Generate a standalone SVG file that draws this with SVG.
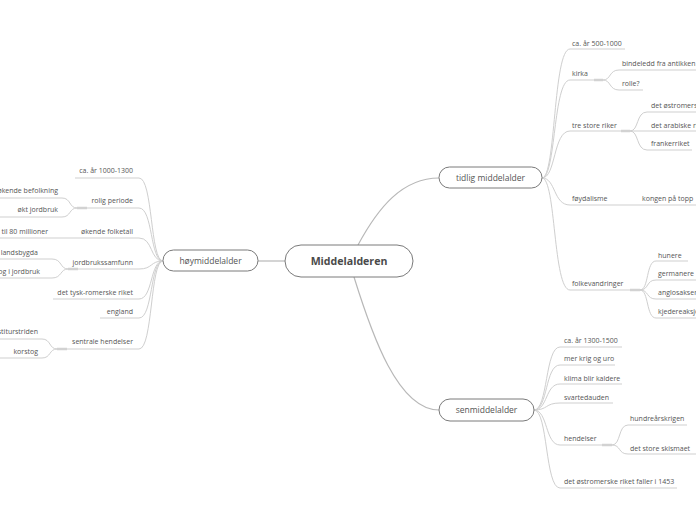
<svg xmlns="http://www.w3.org/2000/svg" width="696" height="520" viewBox="0 0 696 520">
<style>
.c{fill:none;stroke:#cfcfcf;stroke-width:1}
.t{fill:none;stroke:#d2d2d2;stroke-width:2.5}
.m{fill:none;stroke:#b8b8b8;stroke-width:1.2}
.n{fill:#fff;stroke:#7a7a7a;stroke-width:1}
.l{font-family:"Open Sans","DejaVu Sans",sans-serif;font-size:7px;fill:#555}
.r{text-anchor:end}
.nl{font-family:"Open Sans","DejaVu Sans",sans-serif;font-size:8.5px;fill:#555;text-anchor:middle}
.cl{font-family:"Open Sans","DejaVu Sans",sans-serif;font-size:10.6px;font-weight:bold;fill:#4a4a4a;text-anchor:middle}
</style>
<rect width="696" height="520" fill="#fff"/>
<g id="connectors">
<path class="m" d="M358,245 C378,208 402,178 439,178"/>
<path class="m" d="M354,277 C372,335 398,410 439,410"/>
<path class="m" d="M258,261 L285,261"/>
<path class="c" d="M542,178 C556,178 553,49 570,49 L625,49"/>
<path class="c" d="M542,178 C556,178 553,80 570,80 L603,80"/>
<path class="c" d="M542,178 C556,178 553,131 570,131 L630,131"/>
<path class="c" d="M542,178 C556,178 553,205 570,205 L696,205"/>
<path class="c" d="M542,178 C556,178 553,290 570,290 L640,290"/>
<path class="t" d="M594,80 L603,80"/>
<path class="c" d="M603,80 C611,80 609,70 619,70 L696,70"/>
<path class="c" d="M603,80 C611,80 609,90 619,90 L643,90"/>
<path class="t" d="M621,131 L630,131"/>
<path class="c" d="M630,131 C639,131 636,112 647,112 L696,112"/>
<path class="c" d="M630,131 L696,131"/>
<path class="c" d="M630,131 C639,131 636,150 647,150 L692,150"/>
<path class="t" d="M630,290 L640,290"/>
<path class="c" d="M640,290 C649,290 646,261 656,261 L688,261"/>
<path class="c" d="M640,290 C649,290 646,280 656,280 L696,280"/>
<path class="c" d="M640,290 C649,290 646,299 656,299 L696,299"/>
<path class="c" d="M640,290 C649,290 646,318 656,318 L696,318"/>
<path class="c" d="M534,410 C548,410 545,347 560,347 L622,347"/>
<path class="c" d="M534,410 C548,410 545,365 560,365 L615,365"/>
<path class="c" d="M534,410 C548,410 545,384 560,384 L622,384"/>
<path class="c" d="M534,410 C548,410 545,403 560,403 L613,403"/>
<path class="c" d="M534,410 C548,410 545,445 560,445 L612,445"/>
<path class="c" d="M534,410 C548,410 545,488 560,488 L677,488"/>
<path class="t" d="M602,445 L612,445"/>
<path class="c" d="M612,445 C621,445 618,425 628,425 L687,425"/>
<path class="c" d="M612,445 C621,445 618,454 628,454 L696,454"/>
<path class="c" d="M163,261 C150,261 153,178 139,178 L75,178"/>
<path class="c" d="M163,261 C150,261 153,208 139,208 L77,208"/>
<path class="c" d="M163,261 C150,261 153,238 139,238 L0,238"/>
<path class="c" d="M163,261 C150,261 153,269 139,269 L68,269"/>
<path class="c" d="M163,261 C150,261 153,299 139,299 L53,299"/>
<path class="c" d="M163,261 C150,261 153,318 139,318 L100,318"/>
<path class="c" d="M163,261 C150,261 153,349 139,349 L57,349"/>
<path class="t" d="M77,208 L87,208"/>
<path class="c" d="M77,208 C69,208 71,198 62,198 L0,198"/>
<path class="c" d="M77,208 C69,208 71,217 62,217 L0,217"/>
<path class="t" d="M68,269 L78,269"/>
<path class="c" d="M68,269 C60,269 62,259 52,259 L0,259"/>
<path class="c" d="M68,269 C60,269 62,278 52,278 L0,278"/>
<path class="t" d="M57,349 L67,349"/>
<path class="c" d="M57,349 C49,349 51,339 42,339 L0,339"/>
<path class="c" d="M57,349 C49,349 51,358 42,358 L0,358"/>
</g>
<g id="center"><rect class="n" x="285" y="245" width="128" height="32" rx="16"/><text class="cl" x="349" y="265">Middelalderen</text></g>
<g id="tidlig"><rect class="n" x="439" y="167" width="103" height="21" rx="10.5"/><text class="nl" x="490.5" y="181">tidlig middelalder</text></g>
<g id="sen"><rect class="n" x="439" y="399" width="95" height="22" rx="11"/><text class="nl" x="486.5" y="413">senmiddelalder</text></g>
<g id="hoy"><rect class="n" x="163" y="250" width="95" height="21" rx="10.5"/><text class="nl" x="210.5" y="264">høymiddelalder</text></g>
<g id="tidlig-children">
<text class="l" x="572" y="45.5">ca. år 500-1000</text>
<text class="l" x="572" y="75.5">kirka</text>
<text class="l" x="622" y="65.5">bindeledd fra antikken</text>
<text class="l" x="622" y="85.5">rolle?</text>
<text class="l" x="572" y="127.5">tre store riker</text>
<text class="l" x="651" y="107.5">det østromerske riket</text>
<text class="l" x="651" y="127.5">det arabiske riket</text>
<text class="l" x="651" y="145.5">frankerriket</text>
<text class="l" x="572" y="200.5">føydalisme</text>
<text class="l" x="642" y="200.5">kongen på topp</text>
<text class="l" x="572" y="285.5">folkevandringer</text>
<text class="l" x="658" y="257.5">hunere</text>
<text class="l" x="658" y="275.5">germanere</text>
<text class="l" x="658" y="294.5">anglosaksere</text>
<text class="l" x="658" y="313.5">kjedereaksjon</text>
</g>
<g id="sen-children">
<text class="l" x="564" y="342.5">ca. år 1300-1500</text>
<text class="l" x="564" y="360.5">mer krig og uro</text>
<text class="l" x="564" y="380.5">klima blir kaldere</text>
<text class="l" x="564" y="399.5">svartedauden</text>
<text class="l" x="564" y="440.5">hendelser</text>
<text class="l" x="630" y="420.5">hundreårskrigen</text>
<text class="l" x="630" y="450.5">det store skismaet</text>
<text class="l" x="564" y="483.5">det østromerske riket faller i 1453</text>
</g>
<g id="hoy-children">
<text class="l r" x="133" y="172.5">ca. år 1000-1300</text>
<text class="l r" x="133" y="202.5">rolig periode</text>
<text class="l r" x="58" y="192.5">økende befolkning</text>
<text class="l r" x="58" y="211.5">økt jordbruk</text>
<text class="l r" x="133" y="233.5">økende folketall</text>
<text class="l r" x="48" y="233.5">til 80 millioner</text>
<text class="l r" x="133" y="264.5">jordbrukssamfunn</text>
<text class="l r" x="38" y="254.5">landsbygda</text>
<text class="l r" x="40" y="273.5">arbeid og i jordbruk</text>
<text class="l r" x="133" y="294.5">det tysk-romerske riket</text>
<text class="l r" x="133" y="313.5">england</text>
<text class="l r" x="133" y="343.5">sentrale hendelser</text>
<text class="l r" x="38" y="333.5">investiturstriden</text>
<text class="l r" x="38" y="353.5">korstog</text>
</g>
</svg>
